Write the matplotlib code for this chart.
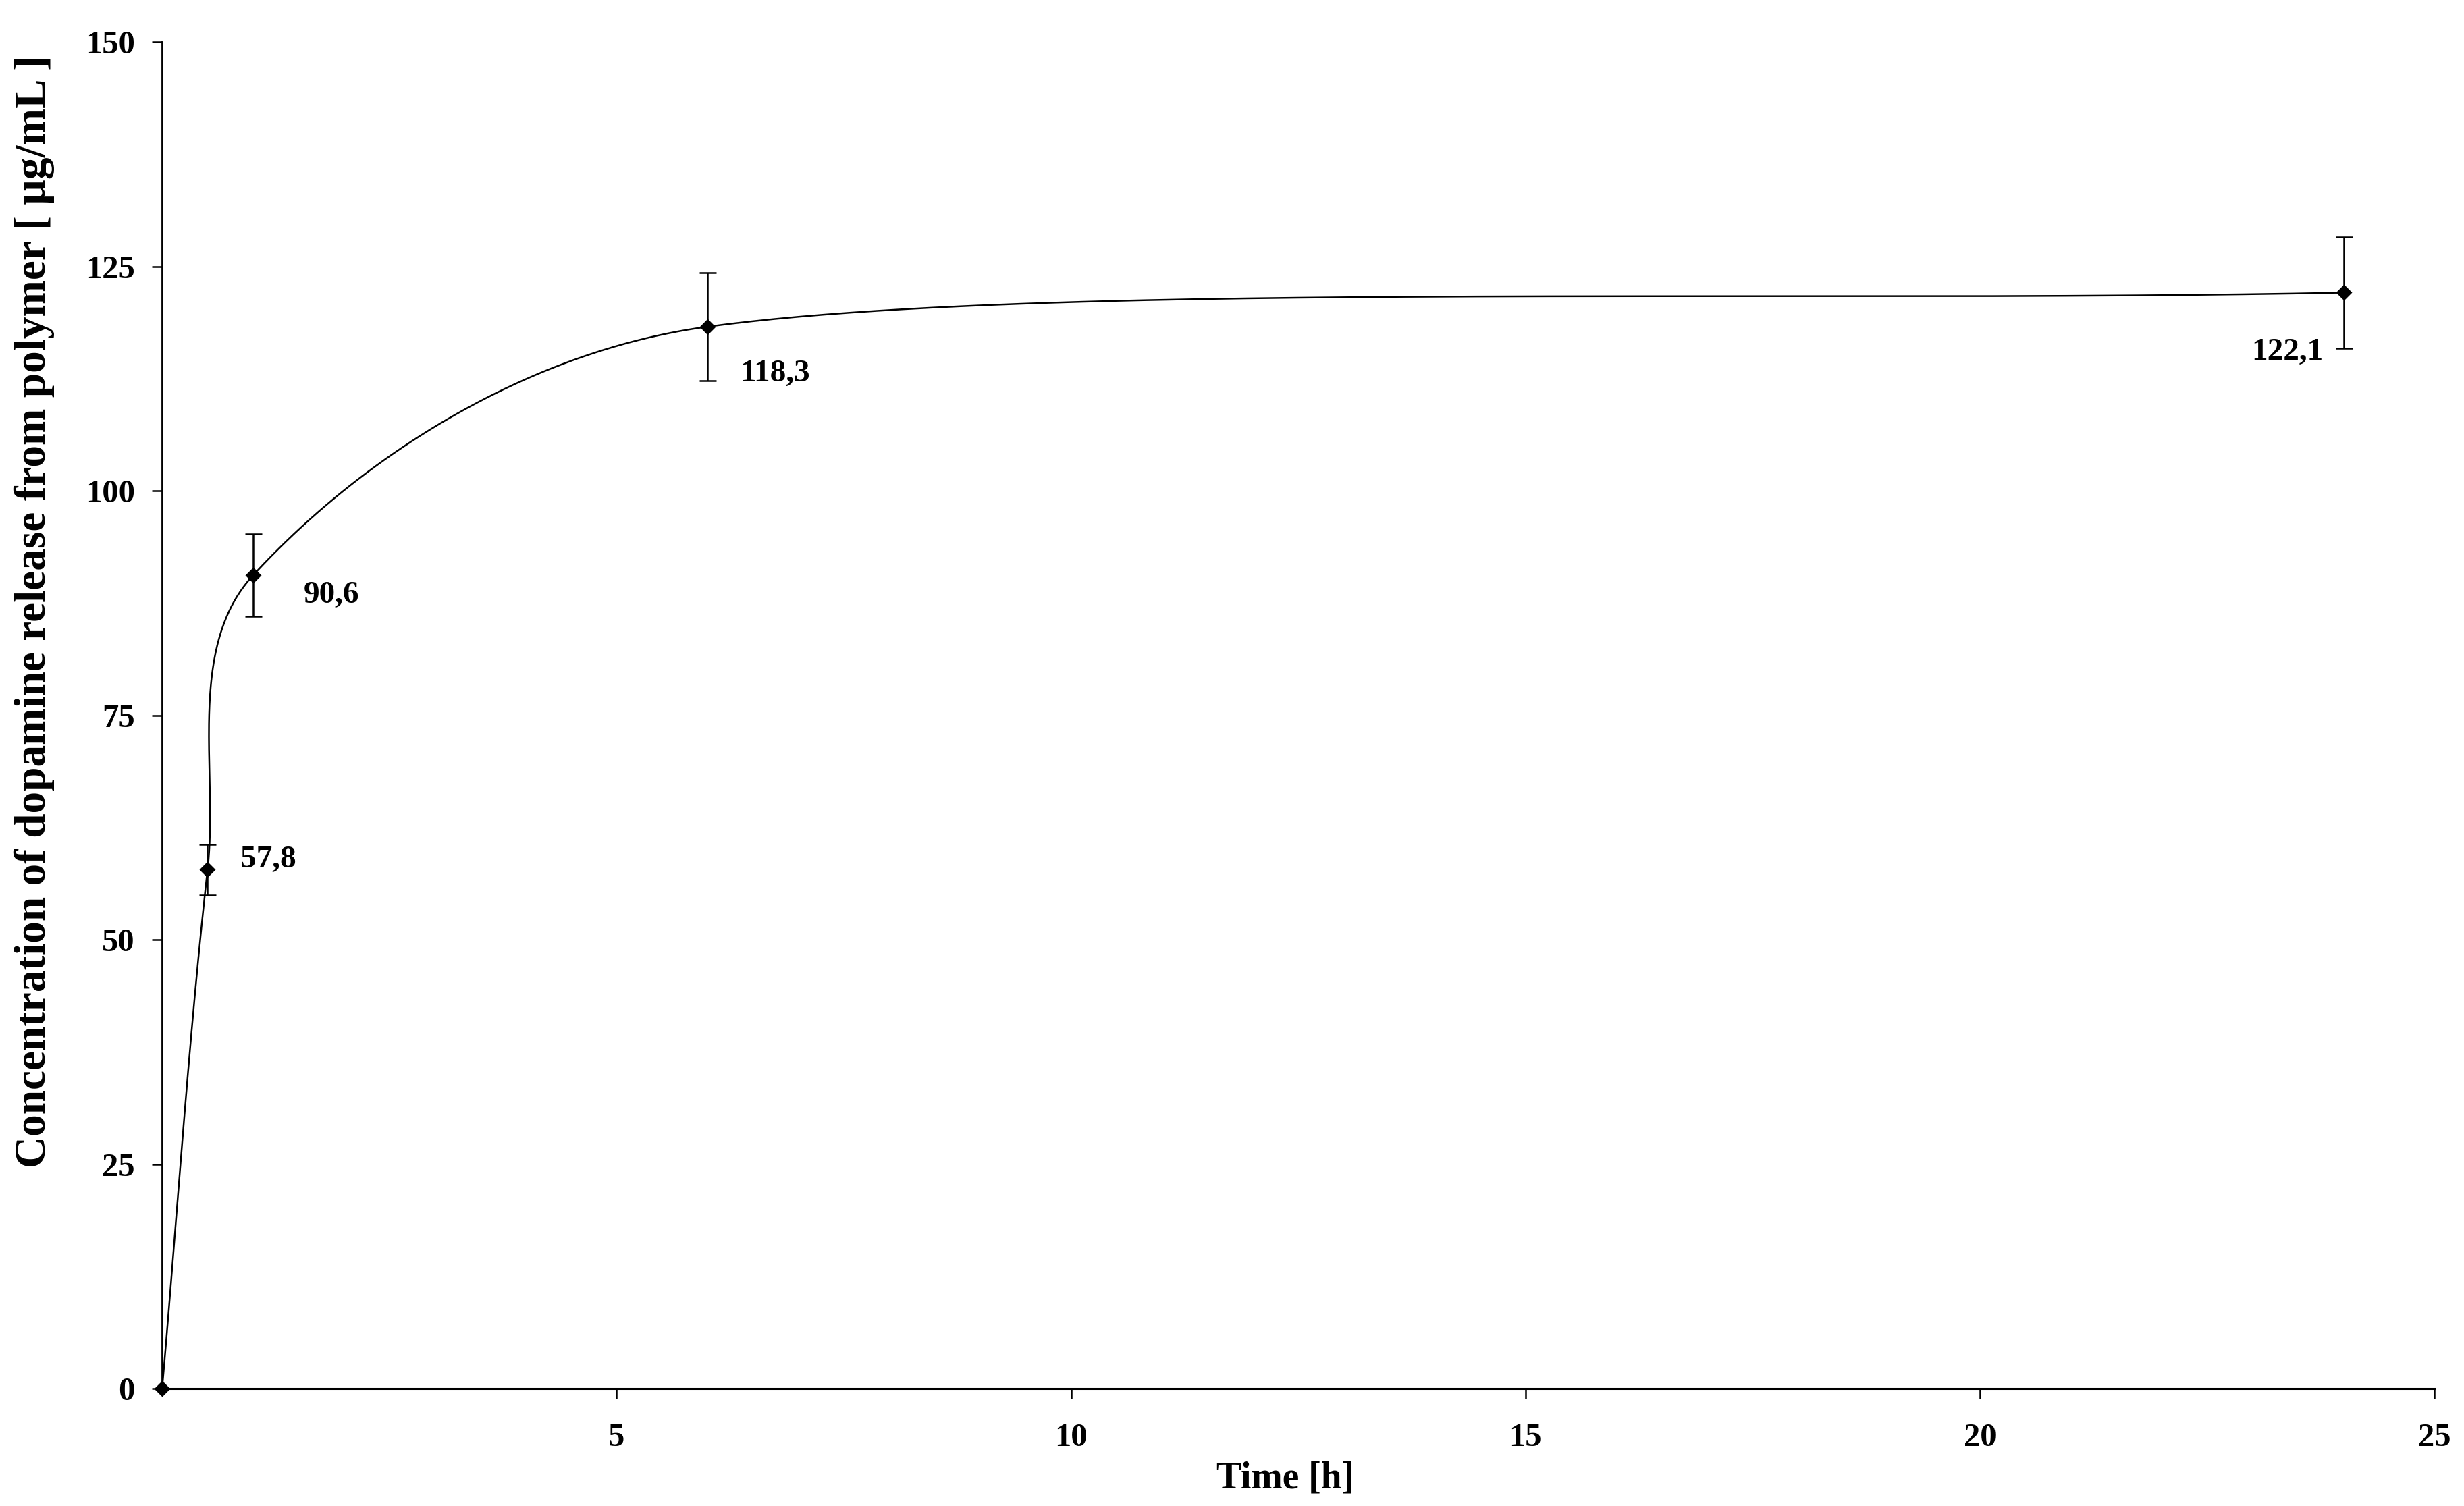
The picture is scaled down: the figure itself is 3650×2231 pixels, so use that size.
#!/usr/bin/env python

import numpy as np
import matplotlib
matplotlib.use('Agg')
import matplotlib.pyplot as plt

# release data
time_h = [0, 0.5, 1, 6, 24]
conc = [0, 57.8, 90.6, 118.3, 122.1]
conc_err = [0, 2.8, 4.6, 6.0, 6.2]
point_labels = ['', '57,8', '90,6', '118,3', '122,1']
# label offsets (pixels) relative to each point
label_dx = [0, 49, 75, 48, -30]
label_dy = [0, 15, -30, -70, -88]
label_ha = ['left', 'left', 'left', 'left', 'right']

x_ticks = [5, 10, 15, 20, 25]
y_ticks = [0, 25, 50, 75, 100, 125, 150]


def smooth_curve(ax, x, y, n=100):
    # spreadsheet-style smoothed line, built in screen space so the
    # bezier handles follow what is seen on the plot
    p = ax.transData.transform(np.column_stack([x, y]).astype(float))
    seglen = np.hypot(*np.diff(p, axis=0).T)
    out = []
    for i in range(len(p) - 1):
        L = seglen[i]
        if i > 0:
            d = p[i + 1] - p[i - 1]
            d = d / np.hypot(*d)
            c1 = p[i] + d * min(L, 2 * seglen[i - 1]) / 3
        else:
            c1 = p[i] + (p[i + 1] - p[i]) / 3
        if i + 2 < len(p):
            d = p[i + 2] - p[i]
            d = d / np.hypot(*d)
            c2 = p[i + 1] - d * min(L, 2 * seglen[i + 1]) / 3
        else:
            c2 = p[i + 1] - (p[i + 1] - p[i]) / 3
        t = np.linspace(0, 1, n)[:, None]
        seg = ((1 - t)**3 * p[i] + 3 * (1 - t)**2 * t * c1
               + 3 * (1 - t) * t**2 * c2 + t**3 * p[i + 1])
        out.append(seg)
    out = ax.transData.inverted().transform(np.vstack(out))
    return out[:, 0], out[:, 1]


plt.rcParams['font.family'] = ['Liberation Serif', 'DejaVu Serif']
plt.rcParams['font.weight'] = 'bold'

fig = plt.figure(figsize=(18.25, 11.155), dpi=200)
ax = fig.add_axes([0.0658, 0.078, 0.9222, 0.894])
ax.set_xlim(0, 25)
ax.set_ylim(0, 150)

sx, sy = smooth_curve(ax, time_h, conc)
ax.plot(sx, sy, color='black', lw=0.9, clip_on=False)

ax.errorbar(time_h[1:], conc[1:], yerr=conc_err[1:], fmt='none',
            ecolor='black', elinewidth=0.9, capsize=4.5, capthick=0.9)
ax.plot(time_h, conc, linestyle='none', marker='D', markersize=5,
        color='black', clip_on=False, zorder=5)

for x, y, lab, dx, dy, ha in zip(time_h, conc, point_labels, label_dx, label_dy, label_ha):
    if not lab:
        continue
    ax.annotate(lab, (x, y), xytext=(dx, dy), textcoords='offset pixels',
                ha=ha, va='center', fontsize=17, fontweight='bold')

ax.set_xticks(x_ticks)
ax.set_yticks(y_ticks)
ax.tick_params(axis='both', direction='out', length=5.5, width=0.9,
               labelsize=17.5, color='black')
ax.tick_params(axis='x', pad=13)
ax.tick_params(axis='y', pad=9)
for lab in ax.get_xticklabels() + ax.get_yticklabels():
    lab.set_fontweight('bold')

ax.spines['top'].set_visible(False)
ax.spines['right'].set_visible(False)
ax.spines['left'].set_linewidth(1.0)
ax.spines['bottom'].set_linewidth(1.1)

fig.text(0.5216, 0.018, 'Time [h]', ha='center', va='center',
         fontsize=20, fontweight='bold')
fig.text(0.014, 0.594, 'Concentration of dopamine release from polymer [ µg/mL ]',
         rotation=90, ha='center', va='center', fontsize=23.5, fontweight='bold')

fig.savefig('out.png', dpi=200, facecolor='white')
